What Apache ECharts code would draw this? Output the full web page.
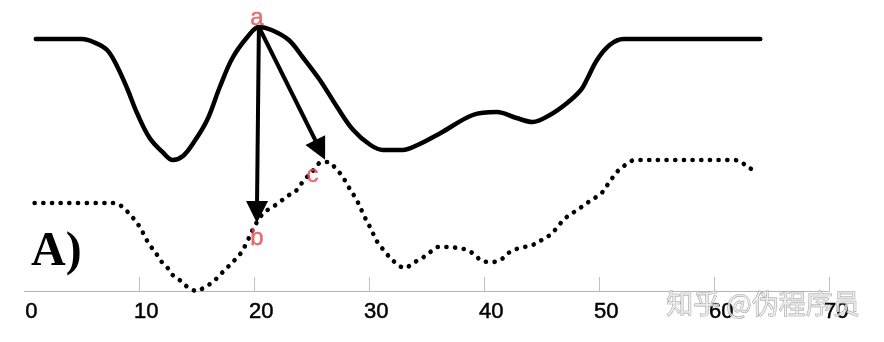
<!DOCTYPE html>
<html>
<head>
<meta charset="utf-8">
<script src="https://cdn.jsdelivr.net/npm/echarts@6/dist/echarts.min.js"></script>
<style>
html,body{margin:0;padding:0;background:#fff;}
#chart{width:884px;height:342px;}
</style>
</head>
<body>
<div id="chart"></div>
<script>
// x-axis ticks and labels
var tickValues = [10, 20, 30, 40, 50, 60, 70];
var labelValues = [0, 10, 20, 30, 40, 50, 60, 70];

// solid curve (upper)
var solidX = [1.0, 5.0, 6.0, 7.2, 8.1, 9.0, 9.8, 10.9, 12.1, 12.9, 13.8, 14.7, 15.9, 17.0, 18.1, 19.4, 20.4, 21.5, 23.0, 24.2, 25.7, 27.2, 28.6, 30.1, 31.2, 32.9, 34.2, 36.2, 39.0, 41.1, 42.8, 44.2, 45.7, 47.2, 48.4, 48.9, 49.8, 50.9, 52.1, 64.0];
var solidY = [252, 252, 249, 241, 224, 201, 178, 153, 138, 131, 135, 148, 171, 204, 233, 254, 264, 261, 251, 234, 211, 184, 161, 146, 141, 141, 146, 158, 176, 179, 173, 169, 176, 188, 201, 211, 231, 246, 252, 252];

// dotted curve (lower)
var dotX = [0.9, 7.7, 8.3, 9.0, 9.6, 10.1, 10.5, 10.9, 11.4, 11.8, 12.4, 12.9, 13.5, 14.2, 15.0, 15.7, 16.4, 17.0, 17.7, 18.3, 18.9, 19.4, 19.9, 20.4, 20.9, 21.6, 22.2, 22.9, 23.7, 24.2, 25.0, 25.9, 26.4, 27.2, 27.7, 28.1, 28.9, 29.6, 30.1, 30.7, 31.4, 32.0, 33.1, 33.8, 34.6, 35.3, 36.0, 36.8, 37.7, 38.5, 39.2, 39.8, 40.7, 41.4, 42.1, 42.8, 43.5, 44.2, 45.0, 45.7, 46.3, 46.8, 47.4, 48.1, 48.8, 49.6, 50.2, 50.7, 51.2, 51.7, 52.4, 53.1, 61.5, 62.2, 62.9, 63.8];
var dotY = [88, 88, 86, 79, 71, 63, 54, 46, 39, 31, 24, 16, 11, 4, 0, 4, 9, 16, 24, 31, 39, 50, 62, 72, 79, 84, 89, 95, 101, 109, 119, 129, 129, 121, 114, 106, 91, 74, 63, 49, 39, 31, 23, 28, 33, 39, 44, 44, 43, 41, 36, 30, 29, 31, 38, 42, 44, 46, 51, 56, 63, 70, 76, 81, 87, 93, 98, 106, 114, 121, 127, 131, 131, 130, 124, 119];

// annotation arrows: from point a to b and c
var arrowStart = [20.4, 264];
var arrowEnds = [[20.23, 79], [25.73, 141]];

// point labels
var pointNames = ['a', 'b', 'c'];
var pointX = [20.23, 20.23, 25.06];
var pointY = [272.5, 53, 115.7];

function pairs(xs, ys) { return xs.map(function (x, i) { return [x, ys[i]]; }); }

var chart = echarts.init(document.getElementById('chart'), null, {renderer: 'canvas'});
chart.setOption({
  animation: false,
  backgroundColor: '#fff',
  grid: {left: 24.3, right: 54.7, top: 0, bottom: 51, containLabel: false},
  xAxis: {
    type: 'value', min: 0, max: 70, interval: 10,
    splitLine: {show: false},
    axisLine: {show: true, lineStyle: {color: '#b5b5b5', width: 1}},
    axisTick: {show: true, inside: true, length: 14, customValues: tickValues, lineStyle: {color: '#c0c0c0', width: 1}},
    axisLabel: {show: true, customValues: labelValues, margin: 10, color: '#000', fontSize: 22, fontFamily: 'Liberation Sans', textBorderColor: '#000', textBorderWidth: 0.5, padding: [0, 0, 0, 14]}
  },
  yAxis: {type: 'value', min: 0, max: 291, show: false, splitLine: {show: false}},
  graphic: [
    {type: 'text', z: 10, style: {x: 31, y: 253, text: 'A)', fill: '#000', font: 'bold 48px "Liberation Serif", "Times New Roman", serif', verticalAlign: 'middle', align: 'left'}},
    {type: 'text', z: 100, style: {x: 763, y: 304, text: '知乎 @伪程序员', fill: 'rgba(235,235,235,0.75)', stroke: '#9a9a9a', lineWidth: 0.8, font: '27px "Noto Sans CJK SC", sans-serif', verticalAlign: 'middle', align: 'center'}}
  ],
  series: [
    {
      type: 'line', name: 'solid', data: pairs(solidX, solidY), smooth: 0.35, showSymbol: false, symbol: 'none',
      lineStyle: {color: '#000', width: 4.5, cap: 'round', join: 'round'}, silent: true
    },
    {
      type: 'line', name: 'dotted', data: pairs(dotX, dotY), smooth: 0.35, showSymbol: false, symbol: 'none',
      lineStyle: {color: '#000', width: 4.6, type: [0.1, 8.6], cap: 'round'}, silent: true
    },
    {
      type: 'scatter', name: 'labels', symbolSize: 0, silent: true, z: 5,
      data: pointNames.map(function (n, i) { return {name: n, value: [pointX[i], pointY[i]]}; }),
      label: {show: true, position: 'inside', formatter: '{b}', color: '#e4474c', fontSize: 24, fontFamily: 'Liberation Sans', textBorderColor: '#e4474c', textBorderWidth: 0.4},
      markLine: {
        silent: true, symbol: ['none', 'triangle'], symbolSize: [22, 22],
        label: {show: false},
        lineStyle: {color: '#000', width: 4, type: 'solid'},
        itemStyle: {color: '#000'},
        emphasis: {disabled: true},
        data: arrowEnds.map(function (e) { return [{coord: arrowStart}, {coord: e}]; })
      }
    }
  ]
});
</script>
</body>
</html>
